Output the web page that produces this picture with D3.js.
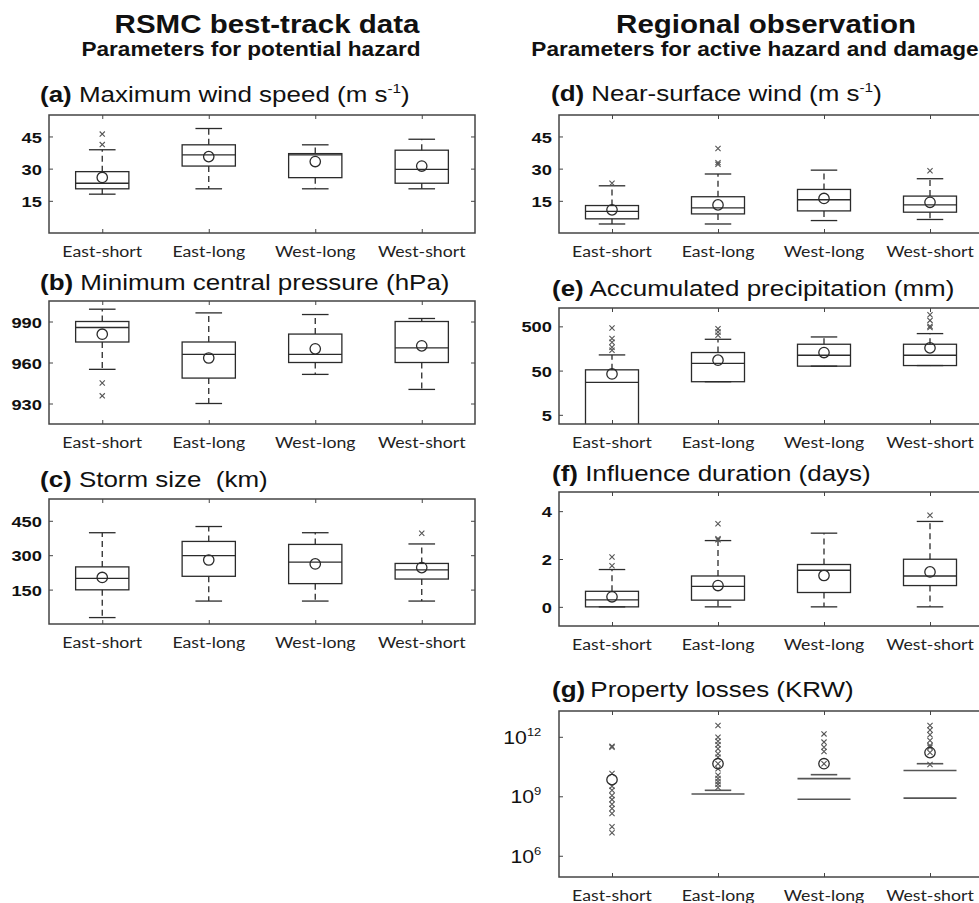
<!DOCTYPE html>
<html>
<head>
<meta charset="utf-8">
<script src="https://cdn.jsdelivr.net/npm/d3@7"></script>
<style>
  html, body { margin: 0; padding: 0; background: #ffffff; }
  svg { display: block; }
  text { white-space: pre; }
</style>
</head>
<body>
<svg id="chart" width="979" height="903"></svg>
<script>
// ---------------- DATA ----------------
const categories = ["East-short", "East-long", "West-long", "West-short"];

// (a) Maximum wind speed (m s-1)
const maxWind = [
  { lo: 18.1, q1: 20.6, med: 23.2, q3: 28.6, hi: 38.8, mean: 25.9, out: [46.1, 41.2] },
  { lo: 20.6, q1: 31.2, med: 36.4, q3: 41.1, hi: 48.7, mean: 35.6, out: [] },
  { lo: 20.6, q1: 25.8, med: 36.4, q3: 37.0, hi: 41.1, mean: 33.3, out: [] },
  { lo: 20.6, q1: 23.2, med: 29.7, q3: 38.6, hi: 43.7, mean: 31.2, out: [] }
];
// (b) Minimum central pressure (hPa)
const minPressure = [
  { lo: 955, q1: 975, med: 985.6, q3: 990, hi: 999, mean: 980.7, out: [945, 935.6] },
  { lo: 930, q1: 948.6, med: 966, q3: 975, hi: 996.3, mean: 963.3, out: [] },
  { lo: 951.3, q1: 960, med: 966, q3: 980.8, hi: 995.1, mean: 970, out: [] },
  { lo: 940.3, q1: 960, med: 970.7, q3: 990, hi: 992.2, mean: 972.2, out: [] }
];
// (c) Storm size (km)
const stormSize = [
  { lo: 28, q1: 149, med: 199, q3: 249, hi: 398, mean: 203, out: [] },
  { lo: 100, q1: 208, med: 298, q3: 360, hi: 425, mean: 279, out: [] },
  { lo: 100, q1: 176, med: 270, q3: 347, hi: 398, mean: 262, out: [] },
  { lo: 100, q1: 196, med: 236, q3: 264, hi: 349, mean: 246, out: [396] }
];
// (d) Near-surface wind (m s-1)
const nearWind = [
  { lo: 4.2, q1: 6.6, med: 10.1, q3: 12.8, hi: 22, mean: 10.8, out: [23.2] },
  { lo: 4.2, q1: 8.9, med: 11.7, q3: 16.9, hi: 27.5, mean: 13.1, out: [39.4, 32.8, 32] },
  { lo: 5.8, q1: 10.3, med: 15.5, q3: 20.3, hi: 29.3, mean: 16.1, out: [] },
  { lo: 6.3, q1: 9.7, med: 13.1, q3: 17.2, hi: 25.3, mean: 14.3, out: [29] }
];
// (e) Accumulated precipitation (mm)
const precip = [
  { lo: 0.5, q1: 1, med: 27, q3: 52, hi: 113, mean: 42, out: [458, 265, 218, 169, 144] },
  { lo: 28, q1: 28, med: 73, q3: 128, hi: 255, mean: 86, out: [444, 372, 314] },
  { lo: 63, q1: 63, med: 111, q3: 197, hi: 288, mean: 128, out: [] },
  { lo: 65, q1: 65, med: 111, q3: 197, hi: 343, mean: 163, out: [916, 682, 500, 468] }
];
// (f) Influence duration (days)
const duration = [
  { lo: 0, q1: 0, med: 0.29, q3: 0.65, hi: 1.56, mean: 0.42, out: [2.08, 1.72] },
  { lo: 0, q1: 0.28, med: 0.86, q3: 1.29, hi: 2.77, mean: 0.89, out: [3.47, 2.85, 2.8] },
  { lo: 0, q1: 0.6, med: 1.53, q3: 1.77, hi: 3.08, mean: 1.31, out: [] },
  { lo: 0, q1: 0.89, med: 1.29, q3: 1.99, hi: 3.57, mean: 1.46, out: [3.83] }
];
// (g) Property losses (KRW) — lower quartile is zero (not shown on log axis)
const losses = [
  { lo: null, q1: null, med: null, q3: null, hi: null, mean: 6.9e9,
    out: [3.3e11, 3.0e11, 1.4e10, 3.2e9, 2.0e9, 1.1e9, 6.8e8, 4.0e8, 2.4e8, 1.35e8, 2.9e7, 1.45e7] },
  { lo: null, q1: null, med: null, q3: 1.3e9, hi: 2.0e9, mean: 4.4e10,
    out: [3.7e12, 9.5e11, 6.0e11, 4.0e11, 2.5e11, 1.4e11, 9.3e10, 4.4e10, 2.45e10, 1.15e10, 7.9e9, 5.6e9, 4.0e9, 2.8e9] },
  { lo: null, q1: null, med: 7.1e8, q3: 7.8e9, hi: 1.23e10, mean: 4.4e10,
    out: [1.4e12, 5.4e11, 3.0e11, 1.8e11, 4.4e10] },
  { lo: null, q1: null, med: 8.1e8, q3: 2.0e10, hi: 4.4e10, mean: 1.6e11,
    out: [3.7e12, 2.2e12, 1.26e12, 6.5e11, 3.6e11, 3.0e11, 1.6e11, 4.0e10] }
];

const ticksA = [15, 30, 45];
const ticksB = [930, 960, 990];
const ticksC = [150, 300, 450];
const ticksD = [15, 30, 45];
const ticksE = [5, 50, 500];
const ticksF = [0, 2, 4];
const ticksG = [1e6, 1e9, 1e12];

// ---------------- LAYOUT ----------------
const SX = 1.18;          // horizontal stretch of the original figure's lettering
const LINE = "#2b2b2b";
const svg = d3.select("#chart");

function stretchText(g, x, y, anchor, sx) {
  return g.append("text")
    .attr("transform", `translate(${x},${y}) scale(${sx || SX},1)`)
    .attr("text-anchor", anchor || "start");
}

// column headings
const headings = [
  { x: 267, x2: 251, y1: 33, y2: 56, main: "RSMC best-track data", sub: "Parameters for potential hazard" },
  { x: 766, x2: 755, y1: 33, y2: 56, main: "Regional observation", sub: "Parameters for active hazard and damage" }
];
headings.forEach(h => {
  stretchText(svg, h.x, h.y1, "middle")
    .attr("font-family", "Liberation Sans, Arial, sans-serif")
    .attr("font-weight", "bold").attr("font-size", 25).attr("fill", "#111")
    .text(h.main);
  stretchText(svg, h.x2, h.y2, "middle", 1.16)
    .attr("font-family", "Liberation Sans, Arial, sans-serif")
    .attr("font-weight", "bold").attr("font-size", 19.5).attr("fill", "#111")
    .text(h.sub);
});

const panels = [
  { tag: "(a)", title: " Maximum wind speed (m s", sup: "-1", tail: ")", data: maxWind, ticks: ticksA,
    log: false, domain: [0, 55], left: 49, right: 475, top: 115, bottom: 233, tx: 40, ty: 102 },
  { tag: "(b)", title: " Minimum central pressure (hPa)", data: minPressure, ticks: ticksB,
    log: false, domain: [915, 1005], left: 49, right: 475, top: 301, bottom: 424, tx: 40, ty: 290 },
  { tag: "(c)", title: " Storm size  (km)", data: stormSize, ticks: ticksC,
    log: false, domain: [0, 545], left: 49, right: 475, top: 499, bottom: 624, tx: 40, ty: 487 },
  { tag: "(d)", title: " Near-surface wind (m s", sup: "-1", tail: ")", data: nearWind, ticks: ticksD,
    log: false, domain: [0, 55], left: 559, right: 983, top: 115, bottom: 233, tx: 551, ty: 101 },
  { tag: "(e)", title: " Accumulated precipitation (mm)", data: precip, ticks: ticksE,
    log: true, domain: [3.1, 1300], left: 559, right: 983, top: 308, bottom: 424, tx: 552, ty: 296 },
  { tag: "(f)", title: " Influence duration (days)", data: duration, ticks: ticksF,
    log: false, domain: [-0.8, 4.8], left: 559, right: 983, top: 492, bottom: 626, tx: 552, ty: 481 },
  { tag: "(g)", title: "\u2009Property losses (KRW)", data: losses, ticks: ticksG, pow10: true,
    log: true, domain: [8.5e4, 2e13], left: 559, right: 983, top: 711, bottom: 877, tx: 552, ty: 697 }
];

panels.forEach((p, pi) => {
  const g = svg.append("g");
  const x = d3.scaleLinear().domain([0.5, 4.5]).range([p.left, p.right]);
  const y = (p.log ? d3.scaleLog() : d3.scaleLinear()).domain(p.domain).range([p.bottom, p.top]);
  const step = x(2) - x(1);
  const boxHalf = step * 0.25, capHalf = step * 0.125;

  // title
  const t = stretchText(g, p.tx, p.ty, "start")
    .attr("font-family", "Liberation Sans, Arial, sans-serif")
    .attr("font-size", 22).attr("fill", "#111");
  t.append("tspan").attr("font-weight", "bold").text(p.tag);
  t.append("tspan").text(p.title);
  if (p.sup) {
    t.append("tspan").attr("font-size", 13).attr("dy", -9).text(p.sup);
    t.append("tspan").attr("dy", 9).text(p.tail);
  }

  // clip
  const clipId = "clip" + pi;
  svg.append("clipPath").attr("id", clipId).append("rect")
    .attr("x", p.left).attr("y", p.top).attr("width", p.right - p.left).attr("height", p.bottom - p.top);
  const plot = g.append("g").attr("clip-path", `url(#${clipId})`);

  // axes (inward ticks)
  const fmt = p.pow10 ? (d => d) : d3.format("d");
  const yAx = g.append("g").attr("transform", `translate(${p.left},0)`)
    .call(d3.axisLeft(y).tickValues(p.ticks).tickSize(-4).tickPadding(6).tickFormat(fmt));
  g.append("g").attr("transform", `translate(${p.right},0)`)
    .call(d3.axisRight(y).tickValues(p.ticks).tickSize(-4).tickFormat(""));
  g.append("g").attr("transform", `translate(0,${p.bottom})`)
    .call(d3.axisBottom(x).tickValues([1, 2, 3, 4]).tickSize(-4).tickFormat(""));
  g.append("g").attr("transform", `translate(0,${p.top})`)
    .call(d3.axisTop(x).tickValues([1, 2, 3, 4]).tickSize(-4).tickFormat(""));
  g.selectAll(".domain").remove();
  g.selectAll(".tick line").attr("stroke", "#444").attr("stroke-width", 1);

  yAx.selectAll("text")
    .attr("font-family", "Liberation Sans, Arial, sans-serif")
    .attr("font-weight", "bold").attr("font-size", 15.5).attr("fill", "#111")
    .attr("transform", `scale(${SX},1)`)
    .attr("dy", "0.36em");
  if (p.pow10) {
    yAx.selectAll("text").each(function(d) {
      const el = d3.select(this);
      el.text("").attr("font-weight", "normal").attr("font-size", 18).attr("x", -15);
      el.append("tspan").text("10");
      el.append("tspan").attr("font-size", 11).attr("dy", -8).text(String(Math.round(Math.log10(d))));
    });
  }

  // frame
  g.append("rect").attr("x", p.left).attr("y", p.top)
    .attr("width", p.right - p.left).attr("height", p.bottom - p.top)
    .attr("fill", "none").attr("stroke", "#444").attr("stroke-width", 1.5);

  // category labels
  categories.forEach((c, i) => {
    stretchText(g, x(i + 1), p.bottom + 24, "middle")
      .attr("font-family", "Lato, 'Open Sans', sans-serif")
      .attr("font-size", 15).attr("fill", "#222")
      .text(c);
  });

  // boxes
  p.data.forEach((d, i) => {
    const cx = x(i + 1);
    const b = plot.append("g").attr("stroke", LINE).attr("fill", "none").attr("stroke-width", 1.3);
    const hasBox = d.q1 !== null && d.q3 !== null;
    if (hasBox) {
      // whiskers
      b.append("line").attr("x1", cx).attr("x2", cx).attr("y1", y(d.q3)).attr("y2", y(d.hi))
        .attr("stroke-dasharray", "6,4");
      b.append("line").attr("x1", cx).attr("x2", cx).attr("y1", y(d.q1)).attr("y2", y(d.lo))
        .attr("stroke-dasharray", "6,4");
      b.append("line").attr("x1", cx - capHalf).attr("x2", cx + capHalf).attr("y1", y(d.hi)).attr("y2", y(d.hi));
      b.append("line").attr("x1", cx - capHalf).attr("x2", cx + capHalf).attr("y1", y(d.lo)).attr("y2", y(d.lo));
      b.append("rect").attr("x", cx - boxHalf).attr("width", boxHalf * 2)
        .attr("y", y(d.q3)).attr("height", y(d.q1) - y(d.q3));
      b.append("line").attr("x1", cx - boxHalf).attr("x2", cx + boxHalf).attr("y1", y(d.med)).attr("y2", y(d.med));
    } else {
      // log axis with zero lower quartile: only the visible horizontal levels
      b.attr("stroke", "#555").attr("stroke-width", 1.6);
      if (d.hi !== null)
        b.append("line").attr("x1", cx - capHalf).attr("x2", cx + capHalf).attr("y1", y(d.hi)).attr("y2", y(d.hi));
      if (d.q3 !== null)
        b.append("line").attr("x1", cx - boxHalf).attr("x2", cx + boxHalf).attr("y1", y(d.q3)).attr("y2", y(d.q3));
      if (d.med !== null)
        b.append("line").attr("x1", cx - boxHalf).attr("x2", cx + boxHalf).attr("y1", y(d.med)).attr("y2", y(d.med));
    }
    // outliers
    const s = 2.6;
    d.out.forEach(v => {
      const yy = y(v);
      plot.append("path")
        .attr("d", `M${cx - s},${yy - s}L${cx + s},${yy + s}M${cx - s},${yy + s}L${cx + s},${yy - s}`)
        .attr("stroke", "#555").attr("stroke-width", 1.1).attr("fill", "none");
    });
    // mean
    plot.append("circle").attr("cx", cx).attr("cy", y(d.mean)).attr("r", 5.2)
      .attr("fill", "none").attr("stroke", LINE).attr("stroke-width", 1.3);
  });
});
</script>
</body>
</html>
